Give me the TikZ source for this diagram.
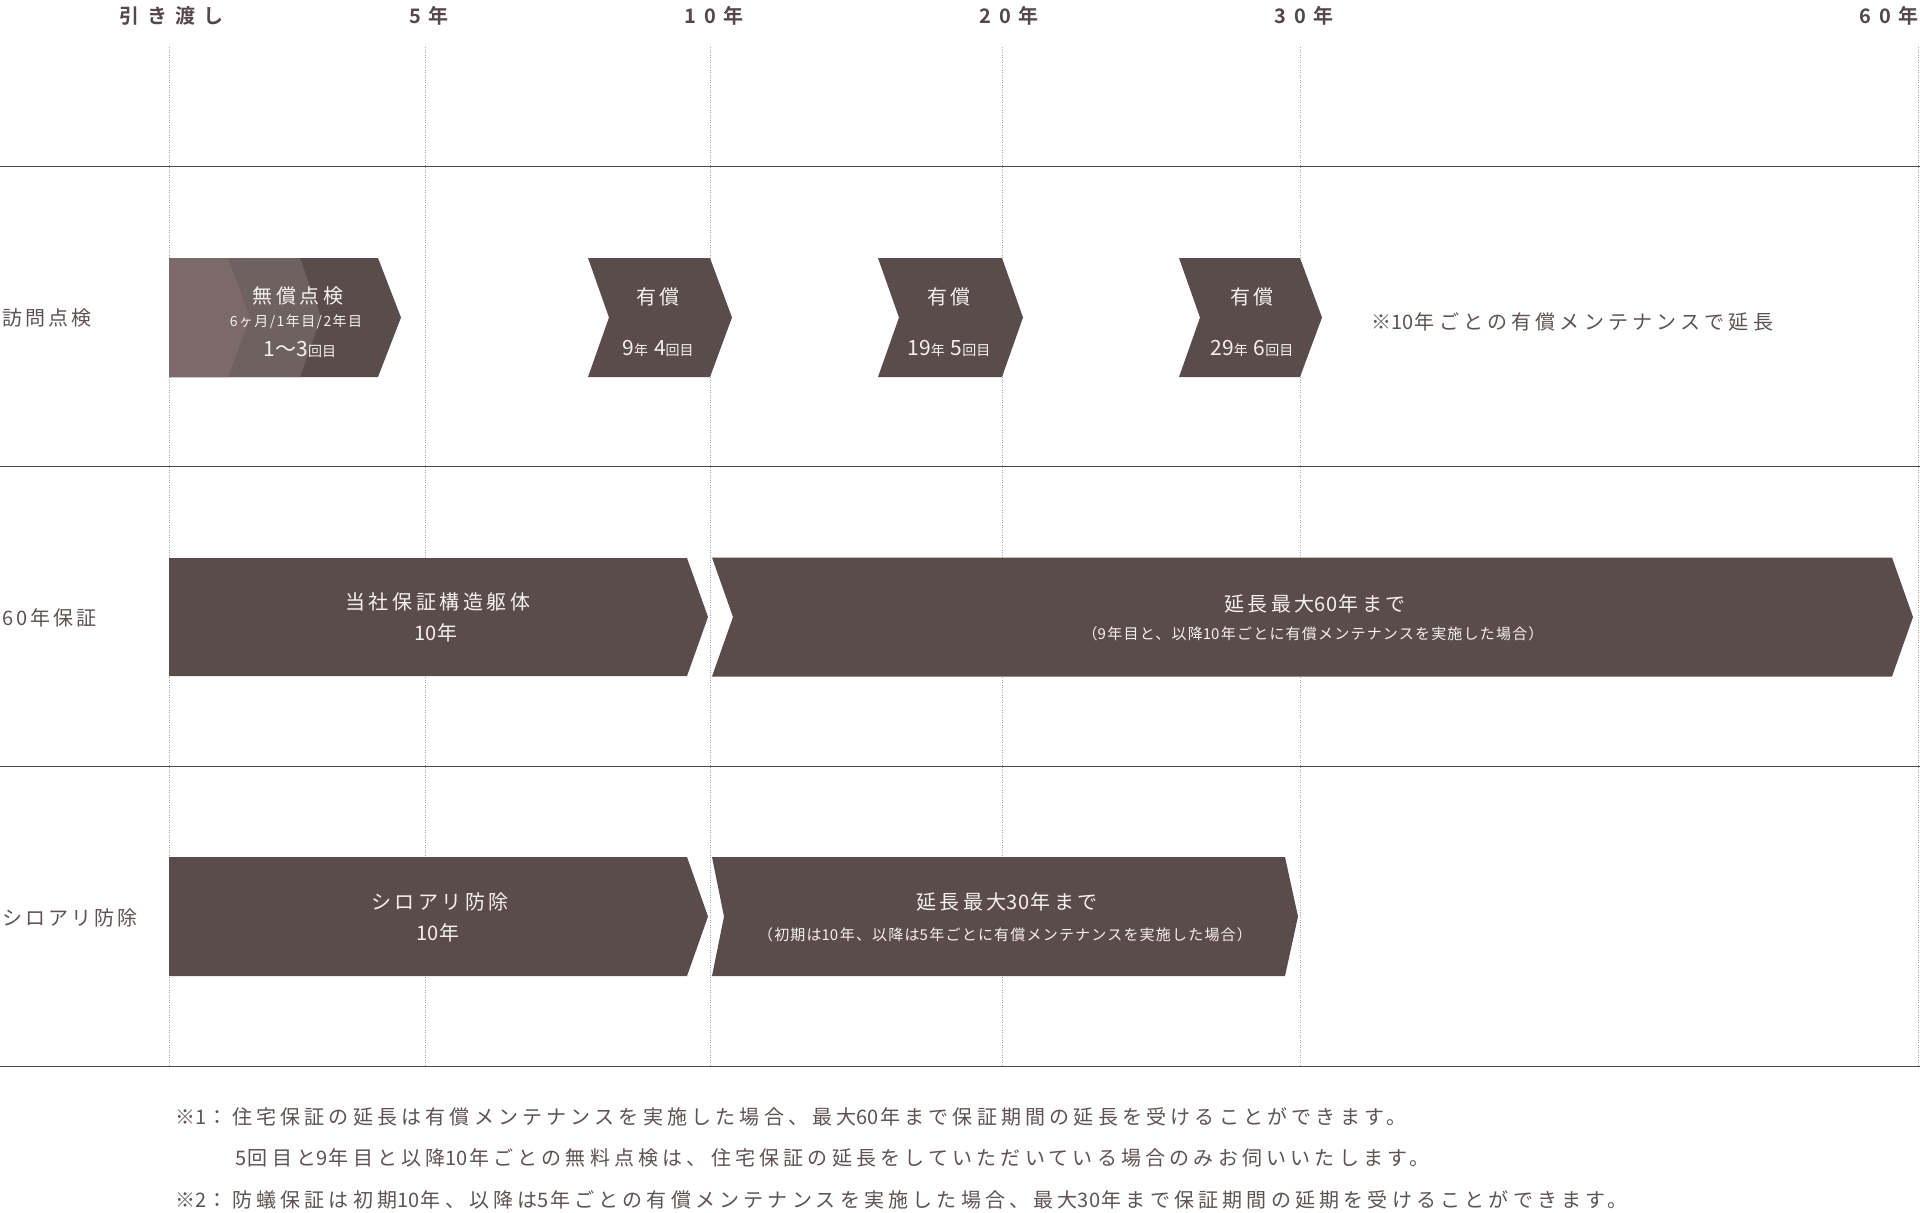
\documentclass[tikz,border=0pt]{standalone}
\usepackage{fontspec}
\setmainfont{Noto Sans CJK JP}
\newfontfamily\jpfont[LetterSpace=18]{Noto Sans CJK JP}
\newfontfamily\notefont[LetterSpace=21]{Noto Sans CJK JP}
\newfontfamily\jpplain{Noto Sans CJK JP}
\newfontfamily\jpsmallfont[LetterSpace=8]{Noto Sans CJK JP}
\newfontfamily\jptinyfont[LetterSpace=10]{Noto Sans CJK JP}
\newfontfamily\lblfont[LetterSpace=15]{Noto Sans CJK JP}
\newfontfamily\topfont[LetterSpace=40]{Noto Sans CJK JP Bold}
\definecolor{chevdark}{HTML}{5A4C4A}
\definecolor{chevmid}{HTML}{6E6260}
\definecolor{chevlight}{HTML}{7B6A68}
\definecolor{txt}{HTML}{5E5352}
\definecolor{toptxt}{HTML}{55474A}
\definecolor{rulecol}{HTML}{4A4A4A}
\definecolor{gridcol}{HTML}{A8A8A8}
\definecolor{chevtxt}{HTML}{F5F1F0}
\newcommand\mychev[6]{%
  \fill[#6] (#1,#5-59.5) -- (#2,#5-59.5) -- (#2+#3,#5) -- (#2,#5+59.5) -- (#1,#5+59.5) -- (#1+#4,#5) -- cycle;}
\newcommand\numL{\fontsize{21}{24}\selectfont}
\newcommand\numS{\fontsize{14}{16}\selectfont}
\newcommand\dg[1]{{\jpplain #1}\kern1.5pt}
\begin{document}
\begin{tikzpicture}[x=1pt,y=-1pt,
  toplbl/.style={text=toptxt,font=\topfont\fontsize{20}{24}\selectfont,inner sep=0pt},
  rowlbl/.style={text=txt,font=\lblfont\fontsize{20}{24}\selectfont,anchor=west,inner sep=0pt},
  chevlbl/.style={text=chevtxt,font=\jpfont\fontsize{20}{24}\selectfont,inner sep=0pt},
  chevsmall/.style={text=chevtxt,font=\jpsmallfont\fontsize{15}{18}\selectfont,inner sep=0pt},
  chevtiny/.style={text=chevtxt,font=\jptinyfont\fontsize{14}{16}\selectfont,inner sep=0pt},
  chevnum/.style={text=chevtxt,font=\jpplain,inner sep=0pt},
  note/.style={text=txt,font=\notefont\fontsize{20}{24}\selectfont,anchor=west,inner sep=0pt},
  gridline/.style={draw=gridcol,line width=1pt,dash pattern=on 1pt off 1.5pt},
  rowrule/.style={draw=rulecol,line width=1.2pt}]
\useasboundingbox (0,0) rectangle (1920,1213);
\fill[white] (0,0) rectangle (1920,1213);
% grid
\foreach \x in {169,425,710,1002,1300,1918} \draw[gridline] (\x,47) -- (\x,1066);
\foreach \y in {166.5,466.5,766.5,1066.5} \draw[rowrule] (0,\y) -- (1920,\y);
% top labels
\node[toplbl] (t0) at (171,16) {引き渡し};
\node[toplbl] (t5) at (429,16) {5年};
\node[toplbl] (t10) at (714,16) {10年};
\node[toplbl] (t20) at (1009,16) {20年};
\node[toplbl] (t30) at (1304,16) {30年};
\node[toplbl,anchor=east] (t60) at (1919,16) {60年};
% row labels
\node[rowlbl] (r1) at (2,318) {訪問点検};
\node[rowlbl] (r2) at (2,618) {60年保証};
\node[rowlbl] (r3) at (2,918) {シロアリ防除};
% row 1 chevrons
\mychev{169}{378}{23}{0}{317.5}{chevdark}
\mychev{169}{300}{21}{0}{317.5}{chevmid}
\mychev{169}{228}{22}{0}{317.5}{chevlight}
\mychev{588}{710}{22}{21}{317.5}{chevdark}
\mychev{878}{1002}{21}{21}{317.5}{chevdark}
\mychev{1179}{1300}{22}{21}{317.5}{chevdark}
\node[chevlbl] (a1) at (298,296) {無償点検};
\node[chevtiny] (a2) at (296,322) {6ヶ月/1年目/2年目};
\node[chevnum] (a3) at (300,349) {\numL 1〜3\numS 回目};
\node[chevlbl] (b1) at (658,297) {有償};
\node[chevnum] (b2) at (658,348) {\numL 9\numS 年\hspace{6pt}\numL 4\numS 回目};
\node[chevlbl] (c1) at (949,297) {有償};
\node[chevnum] (c2) at (949,348) {\numL 19\numS 年\hspace{6pt}\numL 5\numS 回目};
\node[chevlbl] (d1) at (1252,297) {有償};
\node[chevnum] (d2) at (1252,348) {\numL 29\numS 年\hspace{6pt}\numL 6\numS 回目};
\node[note] (ann) at (1371,322) {※\dg{10}年ごとの有償メンテナンスで延長};
% row 2
\fill[chevdark] (169,558) -- (687,558) -- (708,617) -- (687,676) -- (169,676) -- cycle;
\mychev{712}{1892}{21}{21}{617}{chevdark}
\node[chevlbl] (e1) at (438,602) {当社保証構造躯体};
\node[chevlbl] (e2) at (436,633) {\dg{10}年};
\node[chevlbl] (f1) at (1315,604) {延長最大\dg{60}年まで};
\node[chevsmall] (f2) at (1313,634) {（\dg{9}年目と、以降\dg{10}年ごとに有償メンテナンスを実施した場合）};
% row 3
\fill[chevdark] (169,857) -- (687,857) -- (708,916.5) -- (687,976) -- (169,976) -- cycle;
\mychev{712}{1285}{13}{12}{916.5}{chevdark}
\node[chevlbl] (g1) at (440,902) {シロアリ防除};
\node[chevlbl] (g2) at (438,933) {\dg{10}年};
\node[chevlbl] (h1) at (1007,902) {延長最大\dg{30}年まで};
\node[chevsmall] (h2) at (1005,935) {（初期は\dg{10}年、以降は\dg{5}年ごとに有償メンテナンスを実施した場合）};
% footnotes
\node[note] (n1) at (175,1117) {※\dg{1}：住宅保証の延長は有償メンテナンスを実施した場合、最大\dg{60}年まで保証期間の延長を受けることができます。};
\node[note] (n2) at (235,1158) {\dg{5}回目と\dg{9}年目と以降\dg{10}年ごとの無料点検は、住宅保証の延長をしていただいている場合のみお伺いいたします。};
\node[note] (n3) at (175,1200) {※\dg{2}：防蟻保証は初期\dg{10}年、以降は\dg{5}年ごとの有償メンテナンスを実施した場合、最大\dg{30}年まで保証期間の延期を受けることができます。};
\end{tikzpicture}
\end{document}
